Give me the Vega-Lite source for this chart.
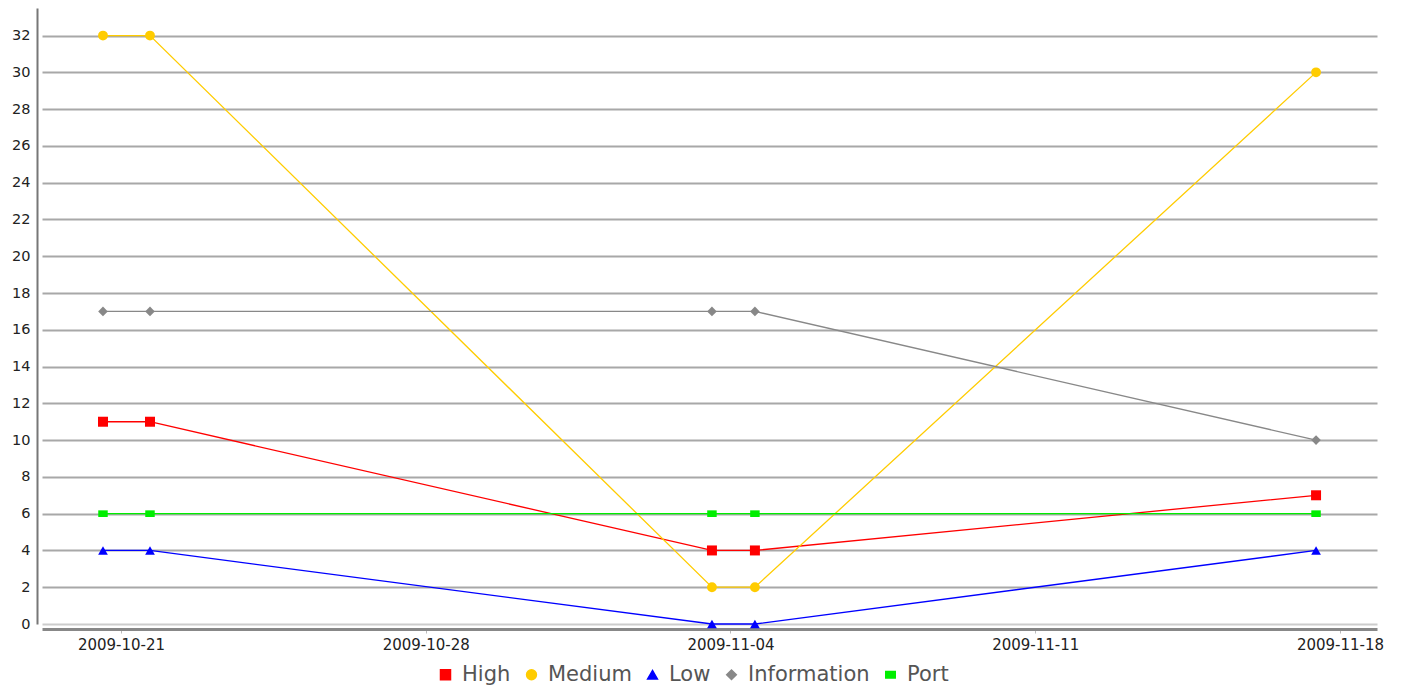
{
  "$schema": "https://vega.github.io/schema/vega-lite/v6.json",
  "autosize": "none",
  "width": 1335,
  "height": 616,
  "padding": {"left": 42, "top": 8, "right": 25, "bottom": 67},
  "background": "white",
  "config": {
    "view": {"stroke": null},
    "font": "DejaVu Sans",
    "axis": {"labelFont": "DejaVu Sans", "titleFont": "DejaVu Sans"},
    "legend": {
      "orient": "none",
      "legendX": 393,
      "legendY": 656,
      "direction": "horizontal",
      "labelFont": "DejaVu Sans",
      "labelFontSize": 21,
      "labelColor": "#555555",
      "symbolSize": 100,
      "labelOffset": 6,
      "columnPadding": 10
    }
  },
  "data": {
    "values": [
      {"date": "2009-10-20T14:05:00Z", "series": "High", "value": 11},
      {"date": "2009-10-21T16:00:00Z", "series": "High", "value": 11},
      {"date": "2009-11-03T13:47:00Z", "series": "High", "value": 4},
      {"date": "2009-11-04T13:28:00Z", "series": "High", "value": 4},
      {"date": "2009-11-17T10:48:00Z", "series": "High", "value": 7},
      {"date": "2009-10-20T14:05:00Z", "series": "Medium", "value": 32},
      {"date": "2009-10-21T16:00:00Z", "series": "Medium", "value": 32},
      {"date": "2009-11-03T13:47:00Z", "series": "Medium", "value": 2},
      {"date": "2009-11-04T13:28:00Z", "series": "Medium", "value": 2},
      {"date": "2009-11-17T10:48:00Z", "series": "Medium", "value": 30},
      {"date": "2009-10-20T14:05:00Z", "series": "Low", "value": 4},
      {"date": "2009-10-21T16:00:00Z", "series": "Low", "value": 4},
      {"date": "2009-11-03T13:47:00Z", "series": "Low", "value": 0},
      {"date": "2009-11-04T13:28:00Z", "series": "Low", "value": 0},
      {"date": "2009-11-17T10:48:00Z", "series": "Low", "value": 4},
      {"date": "2009-10-20T14:05:00Z", "series": "Information", "value": 17},
      {"date": "2009-10-21T16:00:00Z", "series": "Information", "value": 17},
      {"date": "2009-11-03T13:47:00Z", "series": "Information", "value": 17},
      {"date": "2009-11-04T13:28:00Z", "series": "Information", "value": 17},
      {"date": "2009-11-17T10:48:00Z", "series": "Information", "value": 10},
      {"date": "2009-10-20T14:05:00Z", "series": "Port", "value": 6},
      {"date": "2009-10-21T16:00:00Z", "series": "Port", "value": 6},
      {"date": "2009-11-03T13:47:00Z", "series": "Port", "value": 6},
      {"date": "2009-11-04T13:28:00Z", "series": "Port", "value": 6},
      {"date": "2009-11-17T10:48:00Z", "series": "Port", "value": 6}
    ]
  },
  "encoding": {
    "x": {
      "field": "date",
      "type": "temporal",
      "title": null,
      "scale": {
        "type": "utc",
        "domain": [
          {"year": 2009, "month": 10, "date": 19, "hours": 4, "minutes": 28, "utc": true},
          {"year": 2009, "month": 11, "date": 18, "hours": 20, "minutes": 24, "utc": true}
        ]
      },
      "axis": {
        "values": [
          {"year": 2009, "month": 10, "date": 21, "utc": true},
          {"year": 2009, "month": 10, "date": 28, "utc": true},
          {"year": 2009, "month": 11, "date": 4, "utc": true},
          {"year": 2009, "month": 11, "date": 11, "utc": true},
          {"year": 2009, "month": 11, "date": 18, "utc": true}
        ],
        "labelExpr": "utcFormat(datum.value, '%Y-%m-%d')",
        "offset": 5,
        "domainColor": "#888888",
        "domainWidth": 3,
        "tickColor": "#bbbbbb",
        "tickSize": 4,
        "labelFontSize": 15,
        "labelColor": "#222222",
        "labelPadding": 4,
        "labelOverlap": false,
        "labelFlush": false,
        "grid": false
      }
    },
    "y": {
      "field": "value",
      "type": "quantitative",
      "title": null,
      "scale": {"domain": [0, 33.5], "nice": false},
      "axis": {
        "values": [0, 2, 4, 6, 8, 10, 12, 14, 16, 18, 20, 22, 24, 26, 28, 30, 32],
        "offset": 5,
        "domainColor": "#777777",
        "domainWidth": 2,
        "ticks": false,
        "labelPadding": 7,
        "labelFontSize": 14.5,
        "labelColor": "#222222",
        "grid": true,
        "gridColor": {"condition": {"test": "datum.value === 0", "value": "#cccccc"}, "value": "#a8a8a8"},
        "gridWidth": 2
      }
    },
    "color": {
      "field": "series",
      "type": "nominal",
      "scale": {
        "domain": ["High", "Medium", "Low", "Information", "Port"],
        "range": ["#ff0000", "#ffcc00", "#0000ff", "#888888", "#00ee00"]
      },
      "legend": {"title": null, "direction": "horizontal"}
    }
  },
  "layer": [
    {
      "mark": {"type": "line", "strokeWidth": 1.3}
    },
    {
      "mark": {"type": "point", "filled": true, "opacity": 1},
      "encoding": {
        "shape": {
          "field": "series",
          "type": "nominal",
          "scale": {
            "domain": ["High", "Medium", "Low", "Information", "Port"],
            "range": ["square", "circle", "triangle-up", "diamond", "M-1,-0.7H1V0.7H-1Z"]
          },
          "legend": {"title": null, "direction": "horizontal"}
        },
        "size": {
          "field": "series",
          "type": "nominal",
          "scale": {
            "domain": ["High", "Medium", "Low", "Information", "Port"],
            "range": [100, 90, 70, 55, 30]
          },
          "legend": null
        }
      }
    }
  ]
}
